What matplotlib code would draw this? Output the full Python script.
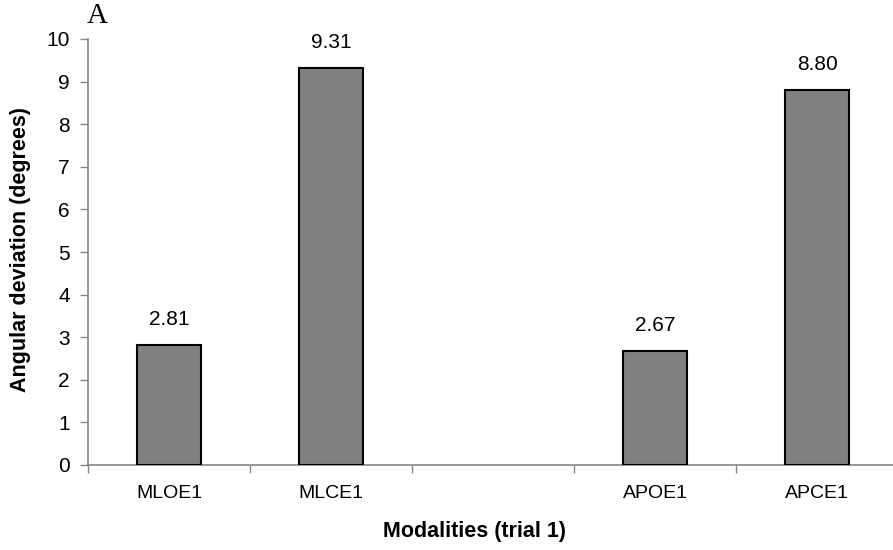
import matplotlib
matplotlib.use("Agg")
import matplotlib.pyplot as plt
import numpy as np

# donnees
modalites = ["MLOE1", "MLCE1", "", "APOE1", "APCE1"]
deviation = [2.81, 9.31, None, 2.67, 8.80]
etiquettes = ["2.81", "9.31", "", "2.67", "8.80"]
yticks = list(range(0, 11))

c_barre = "#808080"
c_axe = "#868686"

plt.rcParams["font.family"] = ["Liberation Sans", "DejaVu Sans"]

fig = plt.figure(figsize=(8.93, 5.5), dpi=100)
ax = fig.add_axes([88 / 893, 1 - 465 / 550, 810 / 893, 426 / 550])

pos = np.arange(len(modalites))
for i, v in enumerate(deviation):
    if v is None:
        continue
    ax.bar(pos[i], v, width=0.4, color=c_barre, edgecolor="black", linewidth=1.5, zorder=3)
    ax.annotate(etiquettes[i], (pos[i], v), xytext=(0, 18.5), textcoords="offset points",
                ha="center", va="center", fontsize=15, color="black")

ax.set_xlim(-0.5, len(modalites) - 0.5)
ax.set_ylim(0, 10)
ax.set_yticks(yticks)

# ticks entre les categories, etiquettes au centre
ax.set_xticks(np.arange(len(modalites) + 1) - 0.5)
ax.set_xticklabels([""] * (len(modalites) + 1))
ax.set_xticks(pos, minor=True)
ax.set_xticklabels(modalites, minor=True, fontsize=14)
ax.tick_params(axis="x", which="minor", length=0, pad=14.5)
ax.tick_params(axis="x", which="major", direction="out", length=6, color=c_axe, width=1)
ax.tick_params(axis="y", direction="out", length=6, color=c_axe, width=1, labelsize=15, pad=7)

for s in ["top", "right"]:
    ax.spines[s].set_visible(False)
for s in ["left", "bottom"]:
    ax.spines[s].set_color(c_axe)
    ax.spines[s].set_linewidth(1.2)

ax.set_xlabel("Modalities (trial 1)", fontsize=15.5, fontweight="bold")
ax.xaxis.set_label_coords(0.477, -0.132)
ax.set_ylabel("Angular deviation (degrees)", fontsize=15.5, fontweight="bold")
ax.yaxis.set_label_coords(-0.07, 0.505)

fig.text(87 / 893, 1 - 3 / 550, "A", fontsize=21, va="top", ha="left",
         family=["Liberation Serif", "DejaVu Serif"])

fig.savefig("out.png", dpi=100)
